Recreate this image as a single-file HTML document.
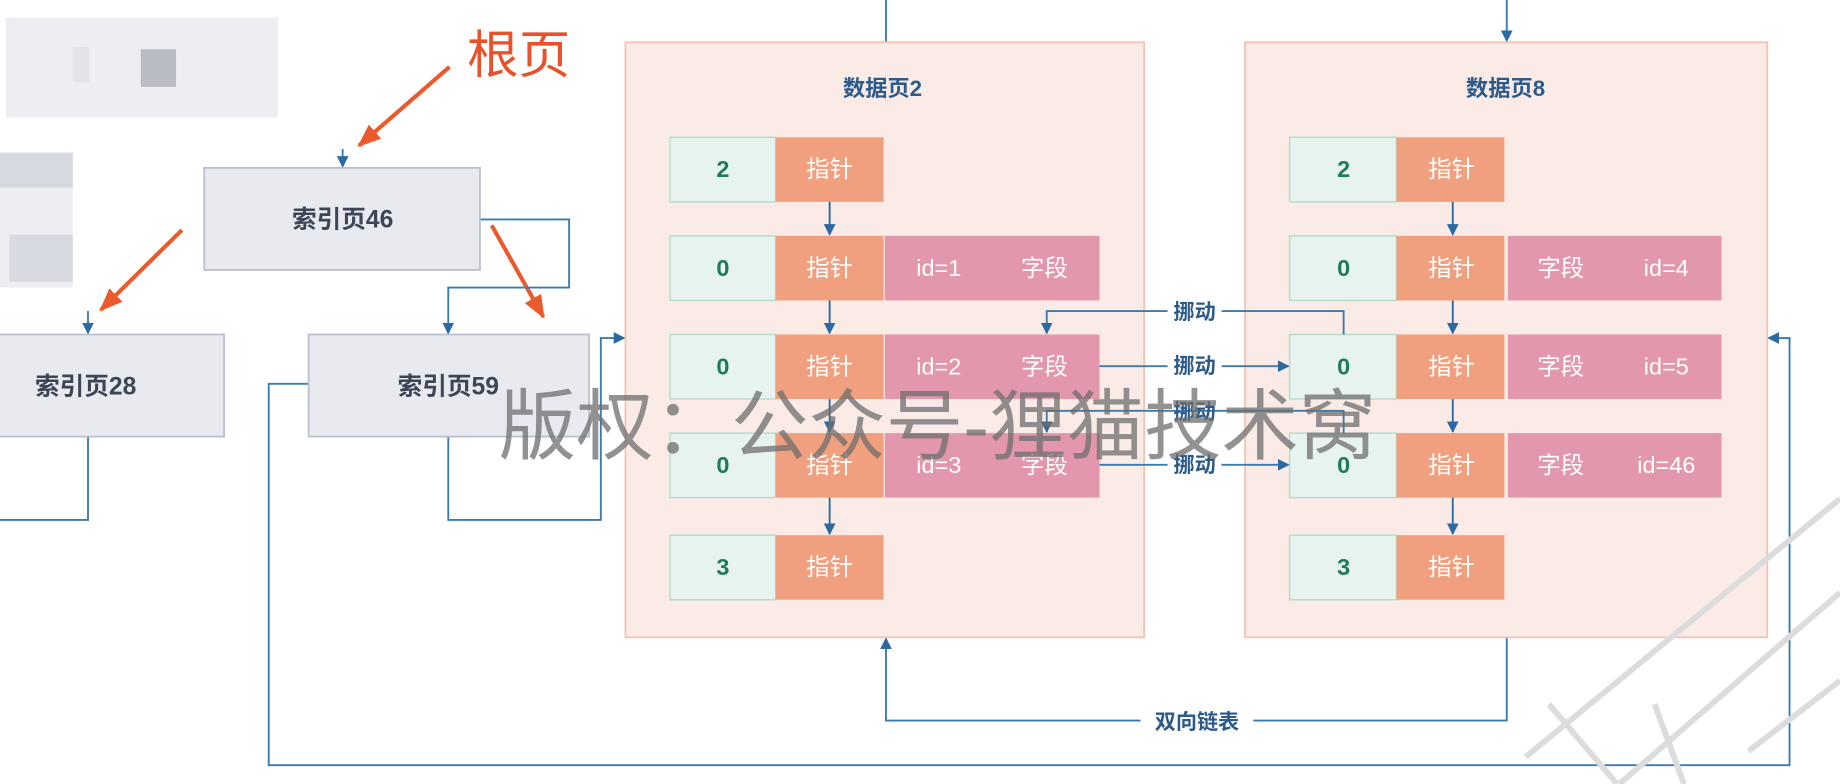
<!DOCTYPE html>
<html><head><meta charset="utf-8"><style>
html,body{margin:0;padding:0;background:#fff;}
svg{display:block;}
text{font-family:"Liberation Sans","Noto Sans CJK SC",sans-serif;}
</style></head><body>
<svg width="1840" height="784" viewBox="0 0 1568 668" preserveAspectRatio="none" xmlns="http://www.w3.org/2000/svg">
<defs>
<marker id="a" markerWidth="10" markerHeight="10" refX="9" refY="5" orient="auto" markerUnits="userSpaceOnUse"><path d="M0,0 L10,5 L0,10 z" fill="#2a6aa0"/></marker>
<marker id="r" markerWidth="20" markerHeight="16" refX="18" refY="8" orient="auto" markerUnits="userSpaceOnUse"><path d="M0,0 L20,8 L0,16 z" fill="#ea5a2c"/></marker>
</defs>
<rect x="5" y="15" width="232" height="85" fill="#eceef1"/>
<rect x="62" y="40" width="14" height="30" fill="#e2e4e8"/>
<rect x="120" y="42" width="30" height="32" fill="#b9bcc4"/>
<rect x="0" y="130" width="62" height="115" fill="#eceef2"/>
<rect x="0" y="130" width="62" height="30" fill="#d6d9e0"/>
<rect x="8" y="200" width="54" height="40" fill="#d6d9e0"/>
<text x="398" y="62" font-size="44" fill="#e8512a">根页</text>
<g stroke="#ea5a2c" stroke-width="3.5" fill="none">
<line x1="383" y1="57" x2="306" y2="124" marker-end="url(#r)"/>
<line x1="155" y1="196" x2="86" y2="264" marker-end="url(#r)"/>
<line x1="419" y1="192" x2="463" y2="270" marker-end="url(#r)"/>
</g>
<g stroke="#3b7bb0" stroke-width="1.6" fill="none">
<line x1="292" y1="127" x2="292" y2="142" marker-end="url(#a)"/>
<line x1="75" y1="265" x2="75" y2="284" marker-end="url(#a)"/>
<polyline points="409,187 485,187 485,245 382,245 382,284" marker-end="url(#a)"/>
<polyline points="382,372 382,443 512,443 512,288 532,288" marker-end="url(#a)"/>
<polyline points="75,372 75,443 0,443"/>
<polyline points="263,327 229,327 229,652 1525,652 1525,288 1507,288" marker-end="url(#a)"/>
<line x1="755" y1="0" x2="755" y2="36"/>
<line x1="1284" y1="0" x2="1284" y2="35" marker-end="url(#a)"/>
<polyline points="1284,543 1284,614 755,614 755,544" marker-end="url(#a)"/>
</g>
<g fill="#e8eaef" stroke="#b9bfcc" stroke-width="1.5">
<rect x="174" y="143" width="235" height="87"/>
<rect x="-5" y="285" width="196" height="87"/>
<rect x="263" y="285" width="239" height="87"/>
</g>
<g font-size="21" fill="#3c4656" text-anchor="middle" font-weight="bold">
<text x="292" y="194">索引页46</text>
<text x="73" y="336">索引页28</text>
<text x="382" y="336">索引页59</text>
</g>
<g fill="#fbebe6" stroke="#f5c2b0" stroke-width="1.5">
<rect x="533" y="36" width="442" height="507"/>
<rect x="1061" y="36" width="445" height="507"/>
</g>
<g font-size="19" fill="#2c5a8a" text-anchor="middle" font-weight="bold">
<text x="752" y="82">数据页2</text>
<text x="1283" y="82">数据页8</text>
</g>
<g stroke="#b5dccb" stroke-width="1.2" fill="#e6f3ef">
<rect x="571" y="117" width="90" height="55"/><rect x="571" y="201" width="90" height="55"/><rect x="571" y="285" width="90" height="55"/><rect x="571" y="369" width="90" height="55"/><rect x="571" y="456" width="90" height="55"/>
<rect x="1099" y="117" width="91" height="55"/><rect x="1099" y="201" width="91" height="55"/><rect x="1099" y="285" width="91" height="55"/><rect x="1099" y="369" width="91" height="55"/><rect x="1099" y="456" width="91" height="55"/>
</g>
<g fill="#f0a07e">
<rect x="661" y="117" width="92" height="55"/><rect x="661" y="201" width="92" height="55"/><rect x="661" y="285" width="92" height="55"/><rect x="661" y="369" width="92" height="55"/><rect x="661" y="456" width="92" height="55"/>
<rect x="1190" y="117" width="92" height="55"/><rect x="1190" y="201" width="92" height="55"/><rect x="1190" y="285" width="92" height="55"/><rect x="1190" y="369" width="92" height="55"/><rect x="1190" y="456" width="92" height="55"/>
</g>
<g fill="#e397ac">
<rect x="754" y="201" width="183" height="55"/><rect x="754" y="285" width="183" height="55"/><rect x="754" y="369" width="183" height="55"/>
<rect x="1285" y="201" width="182" height="55"/><rect x="1285" y="285" width="182" height="55"/><rect x="1285" y="369" width="182" height="55"/>
</g>
<g font-size="20" fill="#1f7a5c" text-anchor="middle" font-weight="bold">
<text x="616" y="151">2</text><text x="616" y="235">0</text><text x="616" y="319">0</text><text x="616" y="403">0</text><text x="616" y="490">3</text>
<text x="1145" y="151">2</text><text x="1145" y="235">0</text><text x="1145" y="319">0</text><text x="1145" y="403">0</text><text x="1145" y="490">3</text>
</g>
<g font-size="20" fill="#fff" text-anchor="middle">
<text x="707" y="151">指针</text><text x="707" y="235">指针</text><text x="707" y="319">指针</text><text x="707" y="403">指针</text><text x="707" y="490">指针</text>
<text x="1237" y="151">指针</text><text x="1237" y="235">指针</text><text x="1237" y="319">指针</text><text x="1237" y="403">指针</text><text x="1237" y="490">指针</text>
<text x="800" y="235">id=1</text><text x="890" y="235">字段</text>
<text x="800" y="319">id=2</text><text x="890" y="319">字段</text>
<text x="800" y="403">id=3</text><text x="890" y="403">字段</text>
<text x="1330" y="235">字段</text><text x="1420" y="235">id=4</text>
<text x="1330" y="319">字段</text><text x="1420" y="319">id=5</text>
<text x="1330" y="403">字段</text><text x="1420" y="403">id=46</text>
</g>
<g stroke="#2a6aa0" stroke-width="1.6">
<line x1="707" y1="172" x2="707" y2="200" marker-end="url(#a)"/><line x1="707" y1="256" x2="707" y2="284" marker-end="url(#a)"/><line x1="707" y1="340" x2="707" y2="368" marker-end="url(#a)"/><line x1="707" y1="424" x2="707" y2="455" marker-end="url(#a)"/>
<line x1="1238" y1="172" x2="1238" y2="200" marker-end="url(#a)"/><line x1="1238" y1="256" x2="1238" y2="284" marker-end="url(#a)"/><line x1="1238" y1="340" x2="1238" y2="368" marker-end="url(#a)"/><line x1="1238" y1="424" x2="1238" y2="455" marker-end="url(#a)"/>
</g>
<g stroke="#3b7bb0" stroke-width="1.6" fill="none">
<polyline points="1145,285 1145,265 892,265 892,284" marker-end="url(#a)"/>
<polyline points="1145,369 1145,350 892,350 892,368" marker-end="url(#a)"/>
<line x1="937" y1="312" x2="1098" y2="312" marker-end="url(#a)"/>
<line x1="937" y1="396" x2="1098" y2="396" marker-end="url(#a)"/>
</g>
<g font-size="18" fill="#2c5a8a" text-anchor="middle" font-weight="bold">
<rect x="995" y="255" width="46" height="20" fill="#fff"/>
<rect x="995" y="302" width="46" height="20" fill="#fff"/>
<rect x="995" y="386" width="46" height="20" fill="#fff"/>
<rect x="972" y="604" width="96" height="20" fill="#fff"/>
<text x="1018" y="272">挪动</text>
<text x="1018" y="318">挪动</text>
<text x="1018" y="357">挪动</text>
<text x="1018" y="402">挪动</text>
<text x="1020" y="621">双向链表</text>
</g>
<text x="425" y="386" font-size="66" fill="#6e6e6e" fill-opacity="0.75">版权：公众号-狸猫技术窝</text>
<g stroke="#dcdcdc" stroke-width="5" fill="none">
<polyline points="1300,645 1568,425"/>
<polyline points="1380,668 1568,505"/>
<polyline points="1320,600 1378,668"/>
<polyline points="1410,600 1435,668"/>
<polyline points="1490,640 1568,580"/>
</g>
</svg>
</body></html>
